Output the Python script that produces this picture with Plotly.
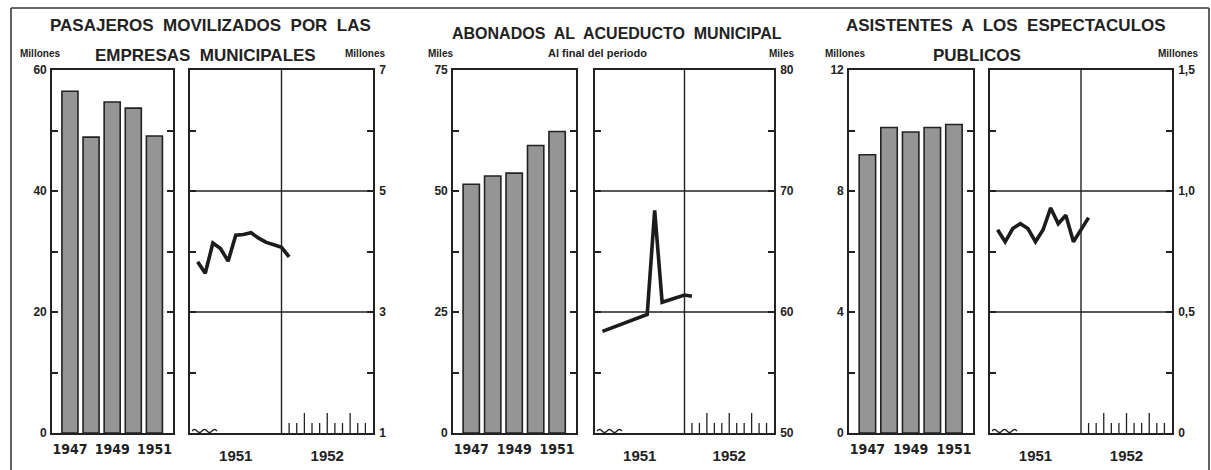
import plotly.graph_objects as go

# ---------------- data ----------------
anios = [1947, 1948, 1949, 1950, 1951]
anios_etiquetas = [1947, 1949, 1951]

pasajeros_anual = [56.5, 48.9, 54.7, 53.7, 49.1]          # millones
abonados_anual = [51.4, 53.1, 53.7, 59.4, 62.3]           # miles
asistentes_anual = [9.2, 10.1, 9.95, 10.1, 10.2]          # millones

meses = [1, 2, 3, 4, 5, 6, 7, 8, 9, 10, 11, 12, 13]       # ene 1951 .. ene 1952
pasajeros_mensual = [3.83, 3.64, 4.14, 4.05, 3.84, 4.27, 4.28, 4.31, 4.22, 4.15, 4.11, 4.07, 3.91]
meses_abonados = [1, 7, 8, 9, 12, 13]
abonados_mensual = [58.4, 59.8, 68.4, 60.8, 61.4, 61.3]
asistentes_mensual = [0.84, 0.79, 0.845, 0.865, 0.845, 0.79, 0.84, 0.93, 0.865, 0.90, 0.79, 0.84, 0.89]

etiquetas_meses = ["1951", "1952"]

bar_ticks = [
    ([0, 10, 20, 30, 40, 50, 60], ["0", "", "20", "", "40", "", "60"]),
    ([0, 12.5, 25, 37.5, 50, 62.5, 75], ["0", "", "25", "", "50", "", "75"]),
    ([0, 2, 4, 6, 8, 10, 12], ["0", "", "4", "", "8", "", "12"]),
]
line_ticks = [
    ([1, 2, 3, 4, 5, 6, 7], ["1", "", "3", "", "5", "", "7"]),
    ([50, 55, 60, 65, 70, 75, 80], ["50", "", "60", "", "70", "", "80"]),
    ([0, 0.25, 0.5, 0.75, 1.0, 1.25, 1.5], ["0", "", "0,5", "", "1,0", "", "1,5"]),
]
line_grids = [[3, 5], [60, 70], [0.5, 1.0]]

# ---------------- layout helpers ----------------
W, H = 1211, 470
def fx(p):
    return p / W
def fy(p):
    return 1 - p / H

INK = "#222222"
FONT = "Liberation Sans, Arial, sans-serif"
NARROW = "DejaVu Sans Condensed, Liberation Sans Narrow, Arial Narrow, sans-serif"

bar_dom = [(52, 173), (453, 576), (849, 973)]
line_dom = [(190, 373), (595, 774), (990, 1172)]
YTOP, YBOT = 70, 433
ydom = [fy(YBOT), fy(YTOP)]

fig = go.Figure()

bar_data = [pasajeros_anual, abonados_anual, asistentes_anual]
line_x = [meses, meses_abonados, meses]
line_y = [pasajeros_mensual, abonados_mensual, asistentes_mensual]

layout = dict(
    width=W, height=H, autosize=False,
    margin=dict(l=0, r=0, t=0, b=0),
    paper_bgcolor="white", plot_bgcolor="white",
    showlegend=False,
)

shapes = []
for i in range(3):
    bx = 2 * i + 1
    lx = 2 * i + 2
    bsx = "" if bx == 1 else str(bx)
    lsx = str(lx)
    fig.add_trace(go.Bar(
        x=anios, y=bar_data[i], width=0.76,
        marker=dict(color="#959595", line=dict(color=INK, width=1.6)),
        xaxis="x" + bsx, yaxis="y" + bsx,
    ))
    fig.add_trace(go.Scatter(
        x=line_x[i], y=line_y[i], mode="lines",
        line=dict(color="#1c1c1c", width=3.6),
        xaxis="x" + lsx, yaxis="y" + lsx,
    ))
    common = dict(showline=True, linecolor=INK, linewidth=1.6, zeroline=False,
                  showgrid=False, tickcolor=INK, tickwidth=1.6, automargin=False)
    tv, tt = bar_ticks[i]
    layout["xaxis" + bsx] = dict(
        common, domain=[fx(bar_dom[i][0]), fx(bar_dom[i][1])], anchor="y" + bsx,
        range=[1946.15, 1951.88], tickvals=anios_etiquetas, ticks="", mirror=True,
        tickfont=dict(family=NARROW, size=14, color=INK, weight="bold"),
        ticklabelstandoff=2,
    )
    layout["yaxis" + bsx] = dict(
        common, domain=ydom, anchor="x" + bsx,
        range=[tv[0], tv[-1]], tickvals=tv, ticktext=tt, ticks="inside", ticklen=6,
        mirror="ticks",
        tickfont=dict(family=FONT, size=12, color=INK, weight="bold"),
        ticklabelstandoff=1,
    )
    tv, tt = line_ticks[i]
    layout["xaxis" + lsx] = dict(
        common, domain=[fx(line_dom[i][0]), fx(line_dom[i][1])], anchor="y" + lsx,
        range=[0, 24], tickvals=[6, 18], ticktext=etiquetas_meses, ticks="", mirror=True,
        tickfont=dict(family=FONT, size=15, color=INK, weight="bold"),
        ticklabelstandoff=8,
    )
    layout["yaxis" + lsx] = dict(
        common, domain=ydom, anchor="x" + lsx, side="right",
        range=[tv[0], tv[-1]], tickvals=tv, ticktext=tt, ticks="inside", ticklen=6,
        mirror="ticks",
        tickfont=dict(family=FONT, size=12, color=INK, weight="bold"),
        ticklabelstandoff=2,
    )
    # grid lines
    for g in line_grids[i]:
        shapes.append(dict(type="line", xref="x" + lsx + " domain", yref="y" + lsx,
                           x0=0, x1=1, y0=g, y1=g, line=dict(color=INK, width=1.4)))
    shapes.append(dict(type="line", xref="x" + lsx, yref="y" + lsx + " domain",
                       x0=12, x1=12, y0=0, y1=1, line=dict(color=INK, width=1.4)))
    # month ticks of 1952
    for m in range(13, 24):
        tall = m in (15, 18, 21)
        shapes.append(dict(type="line", xref="x" + lsx, yref="y" + lsx,
                           ysizemode="pixel", yanchor=tv[0],
                           x0=m, x1=m, y0=0, y1=20 if tall else 10,
                           line=dict(color=INK, width=1.3)))
    # axis break squiggle
    x0 = line_dom[i][0] + 2
    path = "M %f,%f" % (fx(x0), fy(YBOT - 2))
    for k in range(5):
        xa = x0 + k * 5
        path += " Q %f,%f %f,%f" % (fx(xa + 2.5), fy(YBOT - 5 if k % 2 == 0 else YBOT + 1),
                                    fx(xa + 5), fy(YBOT - 2))
    shapes.append(dict(type="path", xref="paper", yref="paper", path=path,
                       line=dict(color=INK, width=1.3)))

# outer frame
shapes += [
    dict(type="line", xref="paper", yref="paper", x0=fx(11), x1=fx(11), y0=fy(8), y1=fy(470),
         line=dict(color="#3a3a3a", width=1.6)),
    dict(type="line", xref="paper", yref="paper", x0=fx(11), x1=fx(1209), y0=fy(8), y1=fy(8),
         line=dict(color="#3a3a3a", width=1.6)),
    dict(type="line", xref="paper", yref="paper", x0=fx(1209), x1=fx(1209), y0=fy(8), y1=fy(470),
         line=dict(color="#3a3a3a", width=1.6)),
]
layout["shapes"] = shapes

def ann(text, x, y, size, family=FONT, weight="normal"):
    return dict(text=text, xref="paper", yref="paper", x=fx(x), y=fy(y),
                xanchor="center", yanchor="middle", showarrow=False,
                font=dict(family=family, size=size, color=INK, weight=weight))

layout["annotations"] = [
    ann("PASAJEROS  MOVILIZADOS  POR  LAS", 210, 25, 17, weight="bold"),
    ann("EMPRESAS  MUNICIPALES", 206, 55, 17, weight="bold"),
    ann("ABONADOS  AL  ACUEDUCTO  MUNICIPAL", 617, 33, 16, weight="bold"),
    ann("ASISTENTES  A  LOS  ESPECTACULOS", 1006, 25, 17, weight="bold"),
    ann("PUBLICOS", 977, 55, 17, weight="bold"),
    ann("Millones", 40, 53, 10, weight="bold"),
    ann("Millones", 365, 53, 10, weight="bold"),
    ann("Miles", 440, 53, 10, weight="bold"),
    ann("Al final del periodo", 597, 53, 11, weight="bold"),
    ann("Miles", 781, 53, 10, weight="bold"),
    ann("Millones", 845, 53, 10, weight="bold"),
    ann("Millones", 1178, 53, 10, weight="bold"),
]

fig.update_layout(**layout)
fig.write_html("out.html", config={"displayModeBar": False},
               post_script="document.body.style.margin='0';document.body.style.overflow='hidden';")
